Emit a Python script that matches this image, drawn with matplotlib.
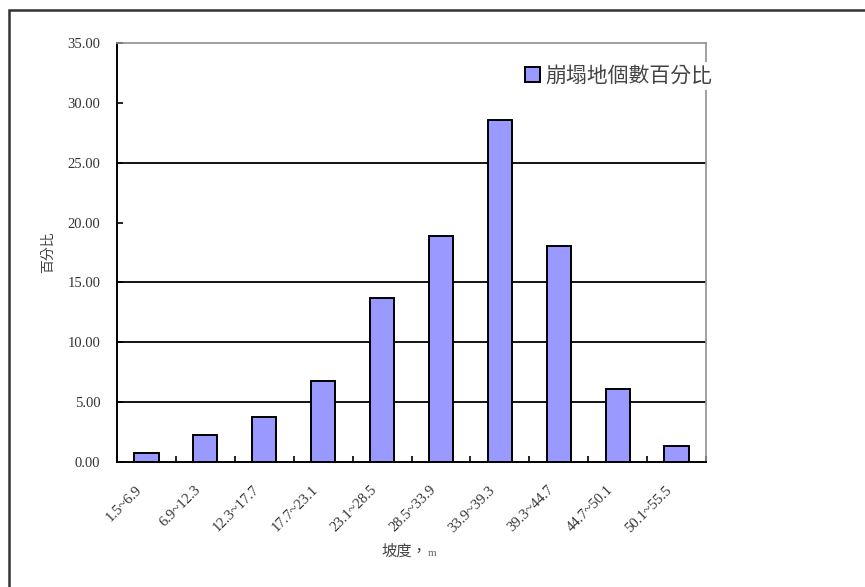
import matplotlib
matplotlib.use("Agg")
import matplotlib.pyplot as plt
from matplotlib.patches import Rectangle
from matplotlib.transforms import ScaledTranslation
import numpy as np

categories = ["1.5~6.9", "6.9~12.3", "12.3~17.7", "17.7~23.1", "23.1~28.5",
              "28.5~33.9", "33.9~39.3", "39.3~44.7", "44.7~50.1", "50.1~55.5"]
values = [0.72, 2.25, 3.72, 6.75, 13.72, 18.9, 28.56, 18.08, 6.06, 1.36]
yticks = [0, 5, 10, 15, 20, 25, 30, 35]
gridlines = [5, 10, 15, 25]
series_name = "崩塌地個數百分比"
ylabel = "百分比"
xlabel_main = "坡度，"
xlabel_unit = "m"

W, H = 865, 587
fig = plt.figure(figsize=(W / 100, H / 100), dpi=100)
fig.patch.set_facecolor("white")

# outer chart frame (continues past the right and bottom edges)
fig.patches.append(Rectangle((9 / W, -0.1), 1.2, 1.1 - 10 / H,
                             transform=fig.transFigure, fill=False,
                             edgecolor="#333333", linewidth=1.8, zorder=0))

left, right, top, bottom = 117, 706, 43, 462
ax = fig.add_axes([left / W, 1 - bottom / H, (right - left) / W, (bottom - top) / H])

x = np.arange(len(categories))
for g in gridlines:
    ax.axhline(g, color="black", linewidth=1.3, zorder=1)
bars = ax.bar(x, values, width=0.41, color="#9999FF", edgecolor="black",
              linewidth=1.4, zorder=2, label=series_name)

ax.set_xlim(-0.5, len(categories) - 0.5)
ax.set_ylim(0, 35)
ax.set_yticks(yticks)
ax.set_yticklabels([f"{v:.2f}" for v in yticks], family="Liberation Serif",
                   fontsize=10.5, color="#333333")
ax.tick_params(axis="y", direction="in", length=4, width=1.2, pad=12)

ax.set_xticks(x)
ax.set_xticklabels(categories, family="Liberation Serif", fontsize=10.5,
                   color="#333333", rotation=45, ha="right", va="center",
                   rotation_mode="anchor")
ax.tick_params(axis="x", which="major", length=0, pad=0)
off = ScaledTranslation(-7 / 100, -26 / 100, fig.dpi_scale_trans)
for lab in ax.get_xticklabels():
    lab.set_transform(lab.get_transform() + off)
ax.set_xticks(np.arange(-0.5, len(categories) + 0.5, 1), minor=True)
ax.tick_params(axis="x", which="minor", direction="in", length=4, width=1.2)

for s in ["left", "bottom"]:
    ax.spines[s].set_color("black")
    ax.spines[s].set_linewidth(1.4)
for s in ["top", "right"]:
    ax.spines[s].set_color("#909090")
    ax.spines[s].set_linewidth(1.2)

fig.text(48 / W, 1 - 252 / H, ylabel, rotation=90, ha="center", va="center",
         family=["Noto Sans CJK TC", "DejaVu Sans"], fontsize=10, color="#444444")
fig.text(427 / W, 1 - 551 / H, xlabel_main, ha="right", va="center",
         family=["Noto Sans CJK TC", "DejaVu Sans"], fontsize=11, color="#444444")
fig.text(428 / W, 1 - 553 / H, xlabel_unit, ha="left", va="center",
         family="Liberation Serif", fontsize=8, color="#666666")

leg = ax.legend(handles=[bars], loc="center left",
                bbox_to_anchor=(522 / W, 1 - 76 / H), bbox_transform=fig.transFigure,
                prop={"family": ["Noto Sans CJK TC", "DejaVu Sans"], "size": 15},
                frameon=True, fancybox=False, edgecolor="none", facecolor="white",
                framealpha=1, handlelength=0.7, handleheight=0.7,
                handletextpad=0.25, borderpad=0.15, borderaxespad=0)
for t in leg.get_texts():
    t.set_color("#444444")

fig.savefig("out.png", dpi=100)
